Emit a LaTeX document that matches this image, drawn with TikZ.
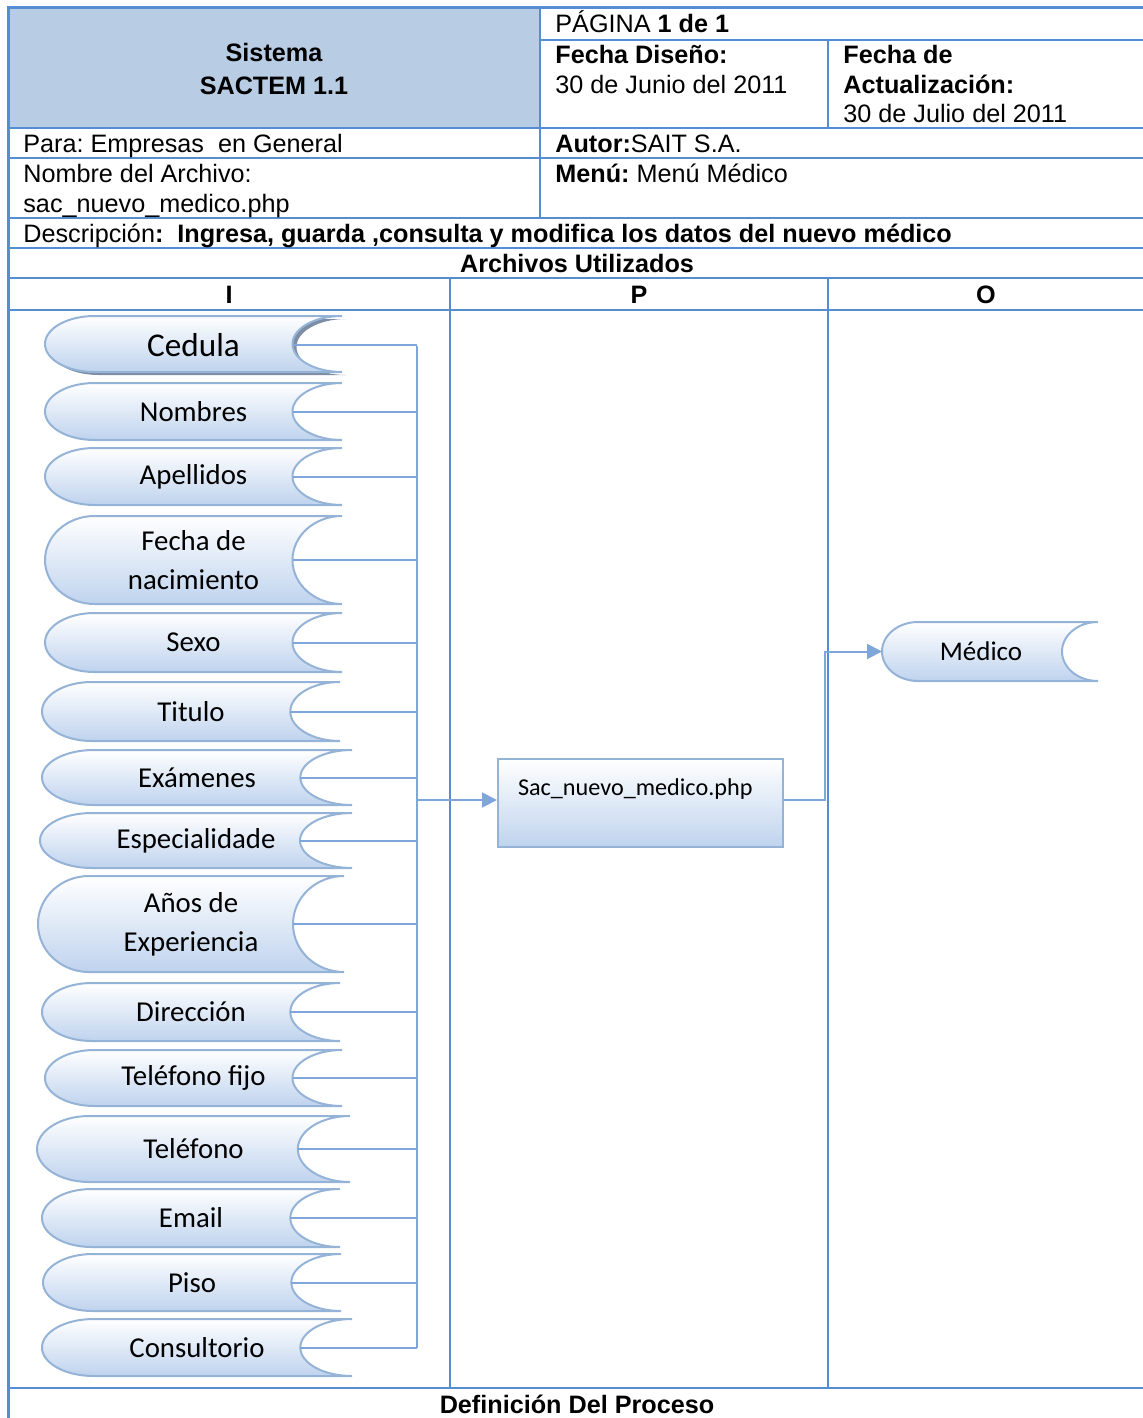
\documentclass[tikz,border=0pt]{standalone}
\usepackage{fontspec}
\setmainfont{Liberation Sans}
\newfontfamily\calibri{Carlito}
\usetikzlibrary{arrows.meta,calc,shadows}
\definecolor{linea}{HTML}{548DD4}
\definecolor{cabeza}{HTML}{B8CCE4}
\definecolor{borde}{HTML}{95B3D7}
\definecolor{relleno}{HTML}{BFD3EE}
\definecolor{conector}{HTML}{7FA6DA}
\definecolor{sombra}{HTML}{7D8DA3}
\tikzset{
  tabla/.style={draw=linea, line width=1.25pt},
  txt/.style={font=\frenchspacing\fontsize{12.6}{14}\selectfont, inner sep=0pt, anchor=base west},
  datos/.style={draw=borde, line width=1pt, top color=white, bottom color=relleno},
  etq/.style={font=\calibri\fontsize{14.4}{19.5}\selectfont, align=center, inner sep=0pt},
  caja/.style={draw=borde, line width=1pt, top color=white, bottom color=relleno,
    minimum height=44pt, text width=122.5pt, inner xsep=10pt, align=left,
    text height=8pt, text depth=16pt, font=\calibri\fontsize{12.1}{13}\selectfont},
  conec/.style={draw=conector, line width=1pt},
  flecha/.style={conec, -{Triangle[length=7.5pt,width=7.5pt]}},
}
\begin{document}
\begin{tikzpicture}[x=0.5pt,y=-0.5pt]
\useasboundingbox (0,0) rectangle (1143,1418);
% Encabezado
\fill[cabeza] (8,8) rectangle (540,128);
\draw[tabla, line width=1.5pt] (1143,8) -- (8,8) -- (8,1418);
\foreach \yy in {128,158,218,248,278,310,1388}
  \draw[tabla] (8,\yy) -- (1143,\yy);
\draw[tabla] (540,40) -- (1143,40);
\draw[tabla] (540,8) -- (540,218);
\draw[tabla] (828,40) -- (828,128);
\draw[tabla] (450,278) -- (450,1388);
\draw[tabla] (828,278) -- (828,1388);
% Textos de la tabla
\node[txt, anchor=base, font=\bfseries\fontsize{12.6}{14}\selectfont] (sis) at (274,62) {Sistema};
\node[txt, anchor=base, font=\bfseries\fontsize{12.6}{14}\selectfont] (sac) at (274,95) {SACTEM 1.1};
\node[txt] (pag) at (555,33) {PÁGINA \textbf{1 de 1}};
\node[txt] (fdis) at (555,64) {\textbf{Fecha Diseño:}};
\node[txt] (fdisv) at (555,94) {30 de Junio del 2011};
\node[txt] (fact) at (843,64) {\textbf{Fecha de}};
\node[txt] (fact2) at (843,94) {\textbf{Actualización:}};
\node[txt] (factv) at (843,123) {30 de Julio del 2011};
\node[txt] (para) at (23,153) {Para: Empresas\ \ en General};
\node[txt] (aut) at (555,153) {\textbf{Autor:}SAIT S.A.};
\node[txt] (arch) at (23,183) {Nombre del Archivo:};
\node[txt] (archv) at (23,212) {sac\_nuevo\_medico.php};
\node[txt] (menu) at (555,183) {\textbf{Menú:} Menú Médico};
\node[txt] (desc) at (23,242) {Descripción\textbf{:\ \ Ingresa, guarda ,consulta y modifica los datos del nuevo médico}};
\node[txt, anchor=base] (archu) at (577,272) {\textbf{Archivos Utilizados}};
\node[txt, anchor=base] (colI) at (229,303) {\textbf{I}};
\node[txt, anchor=base] (colP) at (639,303) {\textbf{P}};
\node[txt, anchor=base] (colO) at (986,303) {\textbf{O}};
\node[txt, anchor=base] (defp) at (577,1413) {\textbf{Definición Del Proceso}};
% Entradas
\coordinate (bus) at (417,346);
\draw[datos, drop shadow={shadow xshift=2pt, shadow yshift=-1.5pt, fill=sombra, opacity=1}]
  (94.5,316) -- (342,316) arc[start angle=270,end angle=90,x radius=49.5,y radius=28]
  -- (94.5,372) arc[start angle=90,end angle=270,x radius=49.5,y radius=28] -- cycle;
\node[etq, font=\calibri\fontsize{16.6}{18}\selectfont] (ced) at (193.5,345) {Cedula};
\coordinate (ced-c) at (294,345);
\draw[conec] (ced-c) -- (ced-c -| bus);
\foreach \nom/\xa/\xb/\ya/\yb/\lab in {
  nom/45/342/383/440/Nombres,
  ape/45/342/448/505/Apellidos,
  fna/45/342/516/604/{Fecha de\\nacimiento},
  sex/45/342/613/672/Sexo,
  tit/42/340/682/741/Titulo,
  exa/42/352/750/805/Exámenes,
  esp/40/352/813/868/Especialidade,
  ani/38/344/876/972/{Años de\\Experiencia},
  dir/42/340/983/1041/Dirección,
  tfi/45/342/1050/1106/Teléfono fijo,
  tel/37/350/1116/1182/Teléfono,
  ema/42/340/1189/1247/Email,
  pis/43/341/1254/1311/Piso,
  con/42/352/1319/1376/Consultorio}{
  \pgfmathsetmacro\rx{(\xb-\xa)/6}
  \pgfmathsetmacro\ry{(\yb-\ya)/2}
  \pgfmathsetmacro\ym{(\yb+\ya)/2}
  \pgfmathsetmacro\cx{(\xb+\xa)/2}
  \draw[datos] (\xa+\rx,\ya) -- (\xb,\ya) arc[start angle=270,end angle=90,x radius=\rx,y radius=\ry]
    -- (\xa+\rx,\yb) arc[start angle=90,end angle=270,x radius=\rx,y radius=\ry] -- cycle;
  \node[etq] (\nom) at (\cx,\ym) {\lab};
  \coordinate (\nom-c) at (\xb-\rx,\ym);
  \draw[conec] (\nom-c) -- (\nom-c -| bus);
}
\draw[conec] (bus) -- (con-c -| bus);
% Proceso
\node[caja] (proc) at (640.5,803) {Sac\_nuevo\_medico.php};
\coordinate (busp) at (417,800);
\draw[flecha] (busp) -- (busp -| proc.west);
% Salida
\draw[datos] (918,622) -- (1098,622) arc[start angle=270,end angle=90,x radius=36,y radius=29.5]
  -- (918,681) arc[start angle=90,end angle=270,x radius=36,y radius=29.5] -- cycle;
\node[etq, font=\calibri\fontsize{13.5}{16}\selectfont] (med) at (981,651.5) {Médico};
\coordinate (med-w) at (882,651.5);
\draw[flecha] (busp -| proc.east) -- ++(41,0) |- (med-w);
\end{tikzpicture}
\end{document}
